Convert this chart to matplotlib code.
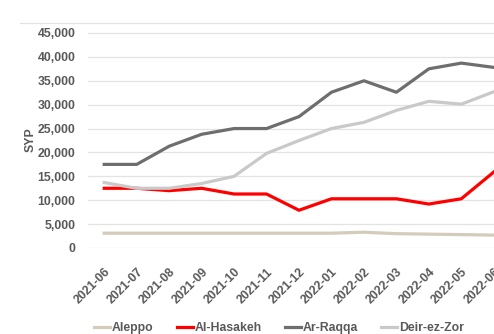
import matplotlib.pyplot as plt
from matplotlib.lines import Line2D

#%% Data
months = ["2021-06", "2021-07", "2021-08", "2021-09", "2021-10", "2021-11", "2021-12",
          "2022-01", "2022-02", "2022-03", "2022-04", "2022-05", "2022-06"]
aleppo = [3100, 3100, 3100, 3100, 3100, 3100, 3100, 3100, 3300, 3000, 2900, 2800, 2700]
hasakeh = [12500, 12500, 12000, 12500, 11300, 11300, 7900, 10300, 10300, 10300, 9200, 10300, 15900]
raqqa = [17500, 17500, 21300, 23800, 25000, 25000, 27500, 32600, 35000, 32600, 37500, 38700, 37800]
deir = [13700, 12500, 12500, 13500, 15000, 19800, 22500, 25000, 26300, 28800, 30700, 30100, 32700]

names = ["Aleppo", "Al-Hasakeh", "Ar-Raqqa", "Deir-ez-Zor"]
colors = ["#d3ccbb", "#ff0000", "#6e6e6e", "#c9c9c9"]

#%% Plot
plt.rcParams['font.family'] = ['Liberation Sans', 'DejaVu Sans']
txt = "#595959"
fs = 8.8

fig = plt.figure(figsize=(4.94, 3.34), dpi=100)
W, H = 494, 334
# axes extends past the right edge (the reference is cropped)
ax = fig.add_axes([88 / W, 1 - 248 / H, (510 - 88) / W, (248 - 33) / H * 50000 / 45000])

x = range(len(months))
for vals, c in zip([aleppo, hasakeh, raqqa, deir], colors):
    ax.plot(x, vals, color=c, lw=2.3, solid_joinstyle='round')

ax.set_xlim(-0.5, len(months) - 0.5)
ax.set_ylim(0, 50000)
ax.set_yticks(range(0, 45001, 5000))
ax.set_yticklabels([f"{v:,}" for v in range(0, 45001, 5000)])
ax.set_xticks(list(x))
ax.set_xticklabels(months, rotation=45, ha='right', va='top', rotation_mode='anchor')
for lab in ax.get_xticklabels() + ax.get_yticklabels():
    lab.set_fontweight('bold')
    lab.set_color(txt)
    lab.set_fontsize(fs)
ax.tick_params(length=0, pad=9)
ax.tick_params(axis='x', pad=13)
ax.grid(axis='y', color='#e3e3e3', lw=0.9)
ax.set_axisbelow(True)
for s in ax.spines.values():
    s.set_visible(False)
ax.set_ylabel("SYP", fontsize=fs, fontweight='bold', color=txt)
ax.yaxis.set_label_coords((37 - 88) / 422, (248 - 140) / 239)

# thin line at top of the chart area
fig.add_artist(Line2D([20 / W, 1], [1 - 23 / H, 1 - 23 / H], color='#e3e3e3', lw=0.9))

handles = [Line2D([], [], color=c, lw=2.3) for c in colors]
fig.legend(handles, names, loc='center', bbox_to_anchor=(279 / W, 1 - 328 / H),
           ncol=4, frameon=False, handlelength=1.3, handletextpad=0.15, columnspacing=1.9,
           prop={'weight': 'bold', 'size': fs}, labelcolor=txt)

fig.savefig("out.png", dpi=100)
